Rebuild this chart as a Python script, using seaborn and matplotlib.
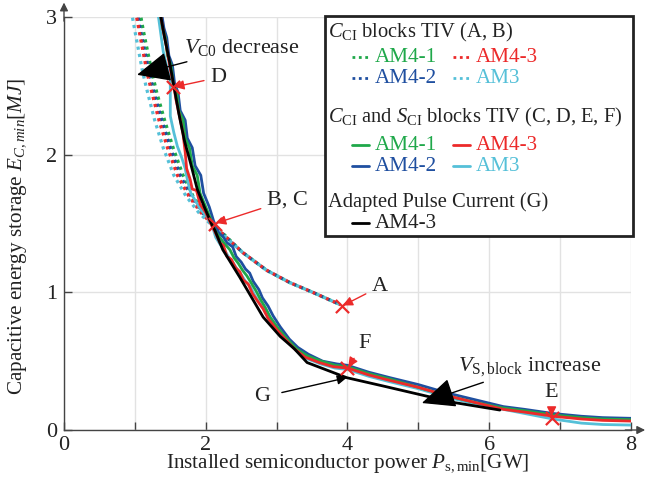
import matplotlib
matplotlib.use("Agg")
import matplotlib.pyplot as plt
from matplotlib.patches import Rectangle
import pandas as pd
import seaborn as sns

sns.set_theme(style="whitegrid")
plt.rcParams["font.family"] = ["Liberation Serif", "DejaVu Serif"]
plt.rcParams["mathtext.fontset"] = "custom"
plt.rcParams["mathtext.rm"] = "Liberation Serif"
plt.rcParams["mathtext.it"] = "Liberation Serif:italic"
plt.rcParams["mathtext.bf"] = "Liberation Serif:bold"

# dotted curves: C_CI blocks TIV (A, B)
dot_x_am41 = [1.05, 1.12, 1.24, 1.31, 1.42, 1.54, 1.68, 1.82, 1.97, 2.12, 2.26, 2.52, 2.86, 3.19, 3.51, 3.90]
dot_y_am41 = [3.10, 2.90, 2.60, 2.45, 2.25, 2.05, 1.85, 1.70, 1.58, 1.49, 1.42, 1.29, 1.16, 1.07, 1.00, 0.91]
dot_x_am42 = [1.01, 1.08, 1.20, 1.27, 1.38, 1.50, 1.64, 1.79, 1.95, 2.11, 2.25, 2.52, 2.86, 3.19, 3.51, 3.90]
dot_y_am42 = [3.10, 2.90, 2.60, 2.45, 2.25, 2.05, 1.85, 1.70, 1.58, 1.49, 1.42, 1.29, 1.16, 1.07, 1.00, 0.91]
dot_x_am43 = [0.99, 1.06, 1.17, 1.24, 1.34, 1.46, 1.60, 1.76, 1.93, 2.10, 2.25, 2.52, 2.86, 3.19, 3.51, 3.90]
dot_y_am43 = [3.10, 2.90, 2.60, 2.45, 2.25, 2.05, 1.85, 1.70, 1.58, 1.49, 1.42, 1.29, 1.16, 1.07, 1.00, 0.91]
dot_x_am3 = [0.93, 1.00, 1.11, 1.18, 1.28, 1.40, 1.55, 1.72, 1.90, 2.08, 2.24, 2.52, 2.86, 3.19, 3.51, 3.90]
dot_y_am3 = [3.10, 2.90, 2.60, 2.45, 2.25, 2.05, 1.85, 1.70, 1.58, 1.49, 1.42, 1.29, 1.16, 1.07, 1.00, 0.91]

# solid curves: C_CI and S_CI blocks TIV (C, D, E, F)
sol_x_am41 = [1.35, 1.39, 1.43, 1.46, 1.51, 1.54, 1.59, 1.62, 1.68, 1.71, 1.77, 1.81, 1.88, 1.92, 2.00, 2.08,
              2.14, 2.21, 2.27, 2.34, 2.40, 2.46, 2.52, 2.58, 2.64, 2.71, 2.77, 2.84, 2.91, 3.02, 3.15, 3.28,
              3.43, 3.63, 3.83, 4.00, 4.30, 4.60, 5.00, 5.40, 5.80, 6.20, 6.50, 6.90, 7.30, 7.60, 8.00]
sol_y_am41 = [3.05, 2.92, 2.85, 2.72, 2.65, 2.52, 2.45, 2.32, 2.25, 2.12, 2.05, 1.92, 1.85, 1.72, 1.62, 1.52,
              1.44, 1.39, 1.35, 1.31, 1.25, 1.21, 1.16, 1.12, 1.07, 1.01, 0.95, 0.89, 0.82, 0.74, 0.66, 0.59,
              0.54, 0.50, 0.47, 0.46, 0.41, 0.37, 0.31, 0.25, 0.20, 0.16, 0.14, 0.11, 0.09, 0.08, 0.075]
sol_x_am42 = [1.37, 1.41, 1.45, 1.48, 1.53, 1.56, 1.61, 1.64, 1.71, 1.74, 1.81, 1.85, 1.93, 1.97, 2.05, 2.11,
              2.17, 2.25, 2.30, 2.38, 2.43, 2.50, 2.56, 2.62, 2.67, 2.75, 2.80, 2.88, 2.95, 3.05, 3.18, 3.30,
              3.45, 3.65, 3.85, 4.00, 4.30, 4.60, 5.00, 5.40, 5.80, 6.20, 6.50, 6.90, 7.30, 7.60, 8.00]
sol_y_am42 = [3.05, 2.92, 2.85, 2.72, 2.65, 2.52, 2.45, 2.32, 2.25, 2.12, 2.05, 1.92, 1.85, 1.72, 1.62, 1.52,
              1.44, 1.40, 1.36, 1.33, 1.26, 1.22, 1.17, 1.14, 1.08, 1.02, 0.96, 0.90, 0.83, 0.75, 0.66, 0.60,
              0.55, 0.50, 0.48, 0.47, 0.42, 0.38, 0.33, 0.27, 0.22, 0.17, 0.15, 0.12, 0.10, 0.09, 0.085]
sol_x_am43 = [1.35, 1.40, 1.44, 1.50, 1.55, 1.58, 1.63, 1.68, 1.71, 1.73, 1.78, 1.81, 1.87, 1.92, 2.00, 2.07,
              2.13, 2.20, 2.25, 2.30, 2.36, 2.42, 2.48, 2.53, 2.60, 2.66, 2.74, 2.81, 2.88, 3.00, 3.12, 3.25,
              3.40, 3.60, 3.80, 4.00, 4.30, 4.60, 5.00, 5.40, 5.80, 6.20, 6.50, 6.90, 7.30, 7.60, 8.00]
sol_y_am43 = [3.05, 2.90, 2.80, 2.62, 2.50, 2.40, 2.28, 2.15, 2.02, 1.90, 1.82, 1.75, 1.74, 1.64, 1.58, 1.50,
              1.44, 1.36, 1.34, 1.26, 1.24, 1.18, 1.15, 1.09, 1.06, 0.99, 0.93, 0.88, 0.81, 0.73, 0.66, 0.59,
              0.53, 0.49, 0.46, 0.45, 0.40, 0.36, 0.31, 0.25, 0.20, 0.15, 0.13, 0.10, 0.08, 0.07, 0.065]
sol_x_am3 = [1.32, 1.36, 1.40, 1.46, 1.50, 1.50, 1.55, 1.60, 1.66, 1.71, 1.74, 1.79, 1.86, 1.93, 2.02, 2.10,
             2.14, 2.20, 2.26, 2.32, 2.38, 2.44, 2.50, 2.56, 2.63, 2.69, 2.76, 2.83, 2.90, 3.02, 3.14, 3.27,
             3.42, 3.62, 3.82, 4.00, 4.30, 4.60, 5.00, 5.40, 5.80, 6.20, 6.50, 6.90, 7.30, 7.60, 8.00]
sol_y_am3 = [3.05, 2.90, 2.75, 2.62, 2.55, 2.28, 2.16, 2.06, 1.98, 1.90, 1.82, 1.72, 1.66, 1.60, 1.55, 1.47,
             1.40, 1.35, 1.31, 1.26, 1.22, 1.17, 1.13, 1.08, 1.04, 0.98, 0.92, 0.87, 0.80, 0.72, 0.65, 0.58,
             0.52, 0.48, 0.45, 0.44, 0.39, 0.35, 0.30, 0.24, 0.19, 0.15, 0.12, 0.08, 0.05, 0.04, 0.036]

# adapted pulse current (G)
apc_x_am43 = [1.35, 1.42, 1.48, 1.55, 1.62, 1.70, 1.78, 1.88, 1.98, 2.08, 2.13, 2.24, 2.48, 2.81, 3.05,
              3.25, 3.43, 3.99, 4.50, 5.00, 5.50, 6.15]
apc_y_am43 = [3.05, 2.85, 2.70, 2.50, 2.30, 2.10, 1.95, 1.75, 1.62, 1.50, 1.45, 1.31, 1.11, 0.82, 0.68,
              0.59, 0.49, 0.38, 0.32, 0.26, 0.20, 0.145]

# marked operating points
pt_labels = ["A", "B, C", "D", "E", "F"]
pt_x = [3.92, 2.13, 1.54, 6.88, 4.00]
pt_y = [0.90, 1.50, 2.49, 0.09, 0.45]
pt_text_x = [4.34, 2.86, 2.06, 6.88, 4.15]
pt_text_y = [1.04, 1.67, 2.56, 0.27, 0.63]

green = "#1fa84a"
blue = "#1f4fa0"
red = "#ec2a2a"
cyan = "#55c0d8"

fig, ax = plt.subplots(figsize=(6.57, 4.83), dpi=100)
fig.subplots_adjust(left=0.0974, right=0.9604, bottom=0.1097, top=0.9648)

dot_style = (0, (1, 1.3))
for xs, ys, c in [(dot_x_am41, dot_y_am41, green), (dot_x_am42, dot_y_am42, blue),
                  (dot_x_am43, dot_y_am43, red), (dot_x_am3, dot_y_am3, cyan)]:
    sns.lineplot(x=xs, y=ys, sort=False, estimator=None, color=c, lw=2.3,
                 linestyle=dot_style, ax=ax)

for xs, ys, c in [(sol_x_am42, sol_y_am42, blue), (sol_x_am3, sol_y_am3, cyan),
                  (sol_x_am41, sol_y_am41, green), (sol_x_am43, sol_y_am43, red)]:
    sns.lineplot(x=xs, y=ys, sort=False, estimator=None, color=c, lw=2.0, ax=ax)

sns.lineplot(x=apc_x_am43, y=apc_y_am43, sort=False, estimator=None, color="black", lw=2.0, ax=ax)

pts = pd.DataFrame({"x": pt_x, "y": pt_y})
sns.scatterplot(data=pts, x="x", y="y", marker="x", s=90, color=red, linewidth=1.6, zorder=5, ax=ax)

for lab, px, py, tx, ty in zip(pt_labels, pt_x, pt_y, pt_text_x, pt_text_y):
    ax.annotate(lab, xy=(px, py), xytext=(tx, ty), fontsize=16, ha="left" if lab != "E" else "center",
                va="center", color="#222222",
                arrowprops=dict(arrowstyle="-|>", color=red, lw=1.0, mutation_scale=14, shrinkA=2, shrinkB=1))

ax.annotate("G", xy=(3.99, 0.38), xytext=(2.8, 0.24), fontsize=16, ha="center", va="center",
            color="#222222",
            arrowprops=dict(arrowstyle="-|>", color="black", lw=1.0, mutation_scale=14, shrinkA=6, shrinkB=0))

big_head = "-|>,head_length=1.0,head_width=0.45"
ax.annotate(r"$V_{\mathrm{C0}}$ decrease", xy=(1.03, 2.58), xytext=(1.7, 2.78), fontsize=16,
            ha="left", va="center", color="#222222",
            arrowprops=dict(arrowstyle=big_head, color="black", lw=1.0, mutation_scale=21, shrinkA=2, shrinkB=0))
ax.annotate(r"$V_{\mathrm{S,block}}$ increase", xy=(5.05, 0.196), xytext=(5.56, 0.46), fontsize=16,
            ha="left", va="center", color="#222222",
            arrowprops=dict(arrowstyle=big_head, color="black", lw=1.0, mutation_scale=21, shrinkA=2, shrinkB=0))

ax.set_xlim(0, 8)
ax.set_ylim(0, 3)
ax.set_xticks([0, 2, 4, 6, 8])
ax.set_xticks([1, 3, 5, 7], minor=True)
ax.set_yticks([0, 1, 2, 3])
ax.grid(True, which="both", color="#e2e2e2", lw=1.0)
ax.set_facecolor("white")
ax.tick_params(axis="both", which="both", labelsize=16, colors="#444444", labelcolor="#222222",
               direction="in", length=6, width=1.0, bottom=True, left=True)
ax.tick_params(axis="x", which="both", pad=4)
ax.tick_params(axis="y", which="both", pad=5)
for s in ["top", "right"]:
    ax.spines[s].set_visible(False)
for s in ["left", "bottom"]:
    ax.spines[s].set_color("#444444")
    ax.spines[s].set_linewidth(1.0)

ax.annotate("", xy=(0, 1.035), xytext=(0, 0.99), xycoords="axes fraction",
            arrowprops=dict(arrowstyle="-|>", color="#444444", lw=1.0, mutation_scale=12, shrinkA=0, shrinkB=0))
ax.annotate("", xy=(1.025, 0), xytext=(0.99, 0), xycoords="axes fraction",
            arrowprops=dict(arrowstyle="-|>", color="#444444", lw=1.0, mutation_scale=12, shrinkA=0, shrinkB=0))

ax.set_xlabel(r"Installed semiconductor power $P_{\mathrm{s,min}}$[GW]", fontsize=15.2, color="#222222")
ax.set_ylabel(r"Capacitive energy storage $E_{C,min}[MJ]$", fontsize=15.2, color="#222222")
ax.xaxis.set_label_coords(0.5, -0.056)
ax.yaxis.set_label_coords(-0.062, 0.47)

# legend box drawn by hand, grouped like the original
ax.add_patch(Rectangle((0.46, 0.47), 0.543, 0.532, transform=ax.transAxes, facecolor="white",
                       edgecolor="#222222", lw=2.0, zorder=10, clip_on=False))
heads = [(r"$C_{\mathrm{CI}}$ blocks TIV (A, B)", 0.962),
         (r"$C_{\mathrm{CI}}$ and $S_{\mathrm{CI}}$ blocks TIV (C, D, E, F)", 0.757),
         ("Adapted Pulse Current (G)", 0.551)]
for txt, yy in heads:
    ax.text(0.466, yy, txt, transform=ax.transAxes, fontsize=14.8, color="#222222",
            va="center", ha="left", zorder=11)

entries = [("AM4-1", green, 0.508, 0.903, dot_style), ("AM4-3", red, 0.686, 0.903, dot_style),
           ("AM4-2", blue, 0.508, 0.852, dot_style), ("AM3", cyan, 0.686, 0.852, dot_style),
           ("AM4-1", green, 0.508, 0.690, "-"), ("AM4-3", red, 0.686, 0.690, "-"),
           ("AM4-2", blue, 0.508, 0.639, "-"), ("AM3", cyan, 0.686, 0.639, "-"),
           ("AM4-3", "black", 0.508, 0.501, "-")]
for lab, c, xx, yy, ls in entries:
    ax.plot([xx, xx + 0.03], [yy, yy], transform=ax.transAxes, color=c, lw=2.0, linestyle=ls,
            zorder=11, clip_on=False)
    ax.text(xx + 0.04, yy, lab, transform=ax.transAxes, fontsize=15.2,
            color=c if c != "black" else "#222222", va="center", ha="left", zorder=11)

fig.savefig("out.png", dpi=100)
